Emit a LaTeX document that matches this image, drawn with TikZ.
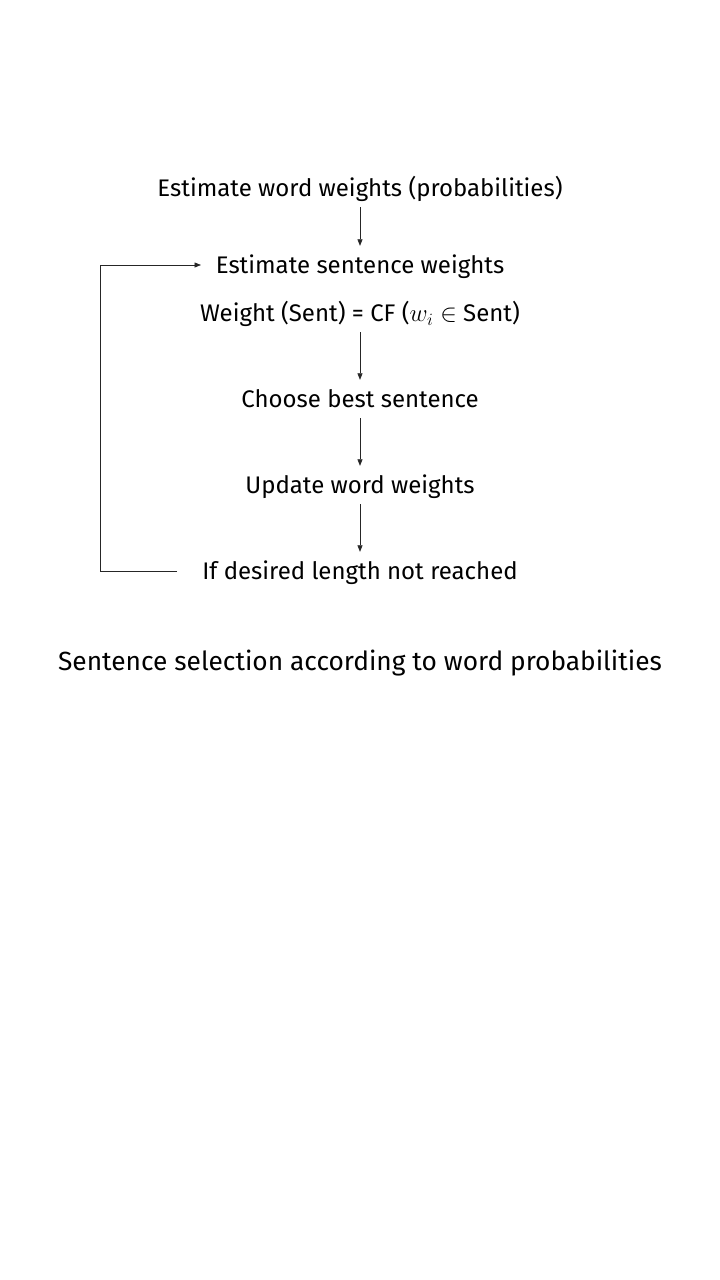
\documentclass[tikz,border=0pt]{standalone}
\usepackage{fontspec}
\setmainfont{Fira Sans}
\usepackage{tikz}
\usetikzlibrary{arrows.meta}

\tikzset{
	step box/.style={font=\fontsize{24}{28}\selectfont, text height=21pt, text depth=4pt, inner xsep=2pt, inner ysep=6.5pt},
	flow/.style={draw=black!85, line width=0.7pt, -{Triangle[length=6.5pt,width=5pt]}}
}

\begin{document}
\begin{tikzpicture}[x=1pt,y=-1pt]
	\useasboundingbox[fill=white] (0,0) rectangle (720,1280);
	% steps
	\node[step box] (wordw) at (360,188) {Estimate word weights (probabilities)};
	\node[step box] (sentw) at (360,265) {Estimate sentence weights};
	\node[step box] (formula) at (360,313) {Weight (Sent) = CF ($w_i \in$ Sent)};
	\node[step box] (best) at (360,399) {Choose best sentence};
	\node[step box] (update) at (360,485) {Update word weights};
	\node[step box] (cond) at (360,571) {If desired length not reached};
	\node[font=\fontsize{26.3}{30}\selectfont] (caption) at (360,663) {Sentence selection according to word probabilities};
	% arrows
	\draw[flow] (wordw) -- (sentw);
	\draw[flow] (formula) -- (best);
	\draw[flow] (best) -- (update);
	\draw[flow] (update) -- (cond);
	% loop back
	\coordinate (back) at (100,571);
	\coordinate (loopout) at (177,571);
	\coordinate (loopin) at (201,265);
	\draw[flow] (loopout) -- (back) |- (loopin);
\end{tikzpicture}
\end{document}
